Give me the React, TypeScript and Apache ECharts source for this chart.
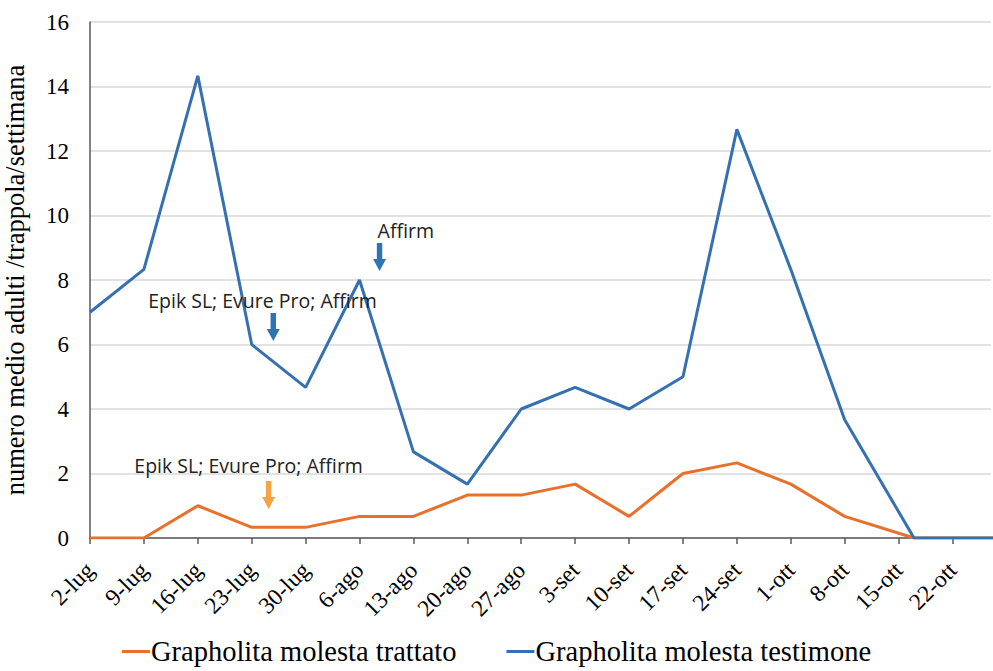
import React, { useEffect, useRef } from "react";
import * as echarts from "echarts";

const tickLabels = ["2-lug", "9-lug", "16-lug", "23-lug", "30-lug", "6-ago", "13-ago", "20-ago", "27-ago", "3-set", "10-set", "17-set", "24-set", "1-ott", "8-ott", "15-ott", "22-ott"];
// days since 2-lug of each sampling
const sampleDays = [0, 7, 14, 21, 28, 35, 42, 49, 56, 63, 70, 77, 84, 91, 98, 107, 121];
const trattato = [0, 0, 1, 0.33, 0.33, 0.67, 0.67, 1.33, 1.33, 1.67, 0.67, 2, 2.33, 1.67, 0.67, 0, 0];
const testimone = [7, 8.33, 14.33, 6, 4.67, 8, 2.67, 1.67, 4, 4.67, 4, 5, 12.67, 8.33, 3.67, 0, 0];

const seriesNames = ["Grapholita molesta trattato", "Grapholita molesta testimone"];
const yAxisTitle = "numero medio adulti /trappola/settimana";
const treatmentLabel = "Epik SL; Evure Pro; Affirm";
const affirmLabel = "Affirm";

const arrowPath = "path://M3.5,0 L8.5,0 L8.5,16 L12,16 L6,28 L0,16 L3.5,16 Z";

export default function App() {
  const ref = useRef<HTMLDivElement>(null);
  useEffect(() => {
    if (!ref.current) return;
    const chart = echarts.init(ref.current, null, { renderer: "svg" });
    const blue = "#3571b0";
    const orange = "#e8702a";
    const textStyleAnn = { fontFamily: "Open Sans", fontSize: 19.5, color: "#222" };
    chart.setOption({
      animation: false,
      grid: { left: 90, right: 2, top: 22, bottom: 133, containLabel: false, outerBoundsMode: "none" },
      legend: {
        bottom: 0,
        left: "center",
        itemGap: 50,
        itemWidth: 28,
        itemHeight: 3,
        icon: "rect",
        textStyle: { fontFamily: "Liberation Serif", fontSize: 28.5, color: "#000", padding: [0, 0, 0, -4] },
        data: seriesNames,
      },
      xAxis: {
        type: "value",
        min: 0,
        max: 117,
        interval: 7,
        axisLine: { lineStyle: { color: "#595959", width: 1.5 } },
        axisTick: { show: true, length: 6, lineStyle: { color: "#595959", width: 1.5 } },
        splitLine: { show: false },
        axisLabel: {
          rotate: 45,
          margin: 28,
          fontFamily: "Liberation Serif",
          fontSize: 23.5,
          color: "#000",
          showMaxLabel: false,
          formatter: (v: number) => (v % 7 === 0 ? tickLabels[v / 7] ?? "" : ""),
        },
      },
      yAxis: {
        type: "value",
        min: 0,
        max: 16,
        interval: 2,
        name: yAxisTitle,
        nameLocation: "middle",
        nameGap: 62,
        nameTextStyle: { fontFamily: "Liberation Serif", fontSize: 26.5, color: "#000" },
        axisLine: { show: true, lineStyle: { color: "#595959", width: 1.5 } },
        axisTick: { show: false },
        splitLine: { lineStyle: { color: "#d9d9d9", width: 1.5 } },
        axisLabel: { margin: 21, fontFamily: "Liberation Serif", fontSize: 23, color: "#000" },
      },
      series: [
        {
          name: seriesNames[0],
          type: "line",
          data: sampleDays.map((d, i) => [d, trattato[i]]),
          showSymbol: false,
          symbol: "none",
          lineStyle: { color: orange, width: 3 },
          itemStyle: { color: orange },
          markPoint: {
            silent: true,
            data: [
              { coord: [23.2, 1.33], symbol: arrowPath, symbolSize: [13, 28], itemStyle: { color: "#f5a443" }, label: { show: false } },
              { coord: [20.6, 2.26], symbol: "circle", symbolSize: 0, label: { show: true, formatter: treatmentLabel, ...textStyleAnn } },
            ],
          },
        },
        {
          name: seriesNames[1],
          type: "line",
          data: sampleDays.map((d, i) => [d, testimone[i]]),
          showSymbol: false,
          symbol: "none",
          lineStyle: { color: blue, width: 3 },
          itemStyle: { color: blue },
          markPoint: {
            silent: true,
            data: [
              { coord: [37.6, 8.71], symbol: arrowPath, symbolSize: [13, 28], itemStyle: { color: "#2e74b5" }, label: { show: false } },
              { coord: [41.0, 9.52], symbol: "circle", symbolSize: 0, label: { show: true, formatter: affirmLabel, ...textStyleAnn } },
              { coord: [23.8, 6.54], symbol: arrowPath, symbolSize: [13, 28], itemStyle: { color: "#2e74b5" }, label: { show: false } },
              { coord: [22.4, 7.35], symbol: "circle", symbolSize: 0, label: { show: true, formatter: treatmentLabel, ...textStyleAnn } },
            ],
          },
        },
      ],
    });
    return () => chart.dispose();
  }, []);
  return <div ref={ref} style={{ position: "fixed", left: 0, top: 0, width: 993, height: 671, background: "#fff" }} />;
}
